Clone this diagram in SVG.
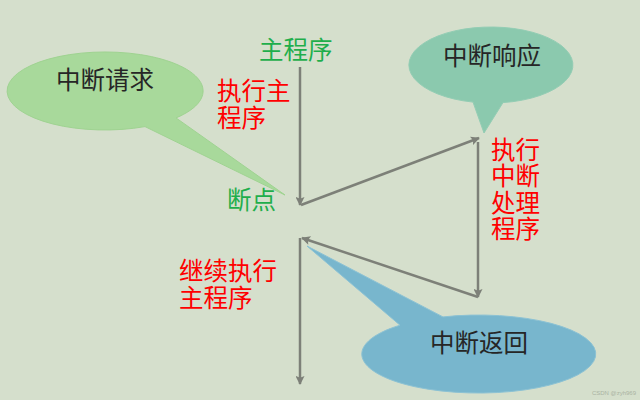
<svg xmlns="http://www.w3.org/2000/svg" width="640" height="400" viewBox="0 0 640 400">
<style>
.t{font-family:"Noto Sans CJK SC","Noto Sans",sans-serif;font-size:24.5px}
.g{fill:#1fae4b}
.r{fill:#ff0000}
.k{fill:#262626}
.c{fill:none;stroke:#7d8078;stroke-width:2.5}
</style>
<defs>
<marker id="ah" viewBox="0 0 10 10" refX="9" refY="5" markerUnits="userSpaceOnUse" markerWidth="10" markerHeight="9" orient="auto">
<path d="M0,0 L10,5 L0,10 L2,5 z" fill="#7d8078"/>
</marker>
</defs>
<rect width="640" height="400" fill="#d5dfcc"/>
<g id="req">
<path d="M176,117.9 L285,195 L145,126.6 A98,39 0 1 1 176,117.9 Z" fill="#a8d99b" stroke="#9fd391" stroke-width="1"/>
<text class="t k" x="105" y="89" text-anchor="middle">中断请求</text>
</g>
<g id="resp">
<path d="M473,102.1 L484,133 L503,102.6 A82,38 0 1 0 473,102.1 Z" fill="#8bc9ae" stroke="#93cdb4" stroke-width="1"/>
<text class="t k" x="492" y="65" text-anchor="middle">中断响应</text>
</g>
<g id="ret">
<path d="M400,325.2 L307,246 L443,316.9 A117,39 0 1 1 400,325.2 Z" fill="#78b6cd" stroke="#8cc2d4" stroke-width="1"/>
<text class="t k" x="479" y="352" text-anchor="middle">中断返回</text>
</g>
<g id="main">
<text class="t g" x="259" y="59">主程序</text>
</g>
<g id="exec-main">
<text class="t r" x="217" y="100">执行主<tspan x="217" y="127">程序</tspan></text>
</g>
<g id="bp">
<text class="t g" x="227" y="209">断点</text>
</g>
<g id="isr">
<text class="t r" x="491" y="158.5">执行<tspan x="491" y="185">中断</tspan><tspan x="491" y="211.5">处理</tspan><tspan x="491" y="238">程序</tspan></text>
</g>
<g id="cont">
<text class="t r" x="179" y="280">继续执行<tspan x="179" y="307">主程序</tspan></text>
</g>
<g id="connectors">
<line class="c" x1="300" y1="67" x2="300" y2="205" marker-end="url(#ah)"/>
<line class="c" x1="301" y1="205" x2="479" y2="138" marker-end="url(#ah)"/>
<line class="c" x1="478" y1="142" x2="478" y2="297" marker-end="url(#ah)"/>
<line class="c" x1="478" y1="297" x2="302" y2="238" marker-end="url(#ah)"/>
<line class="c" x1="300" y1="238" x2="300" y2="384" marker-end="url(#ah)"/>
</g>
<text x="636" y="395" text-anchor="end" font-family="Liberation Sans,sans-serif" font-size="6" fill="#aab3a2">CSDN @zyh969</text>
</svg>
